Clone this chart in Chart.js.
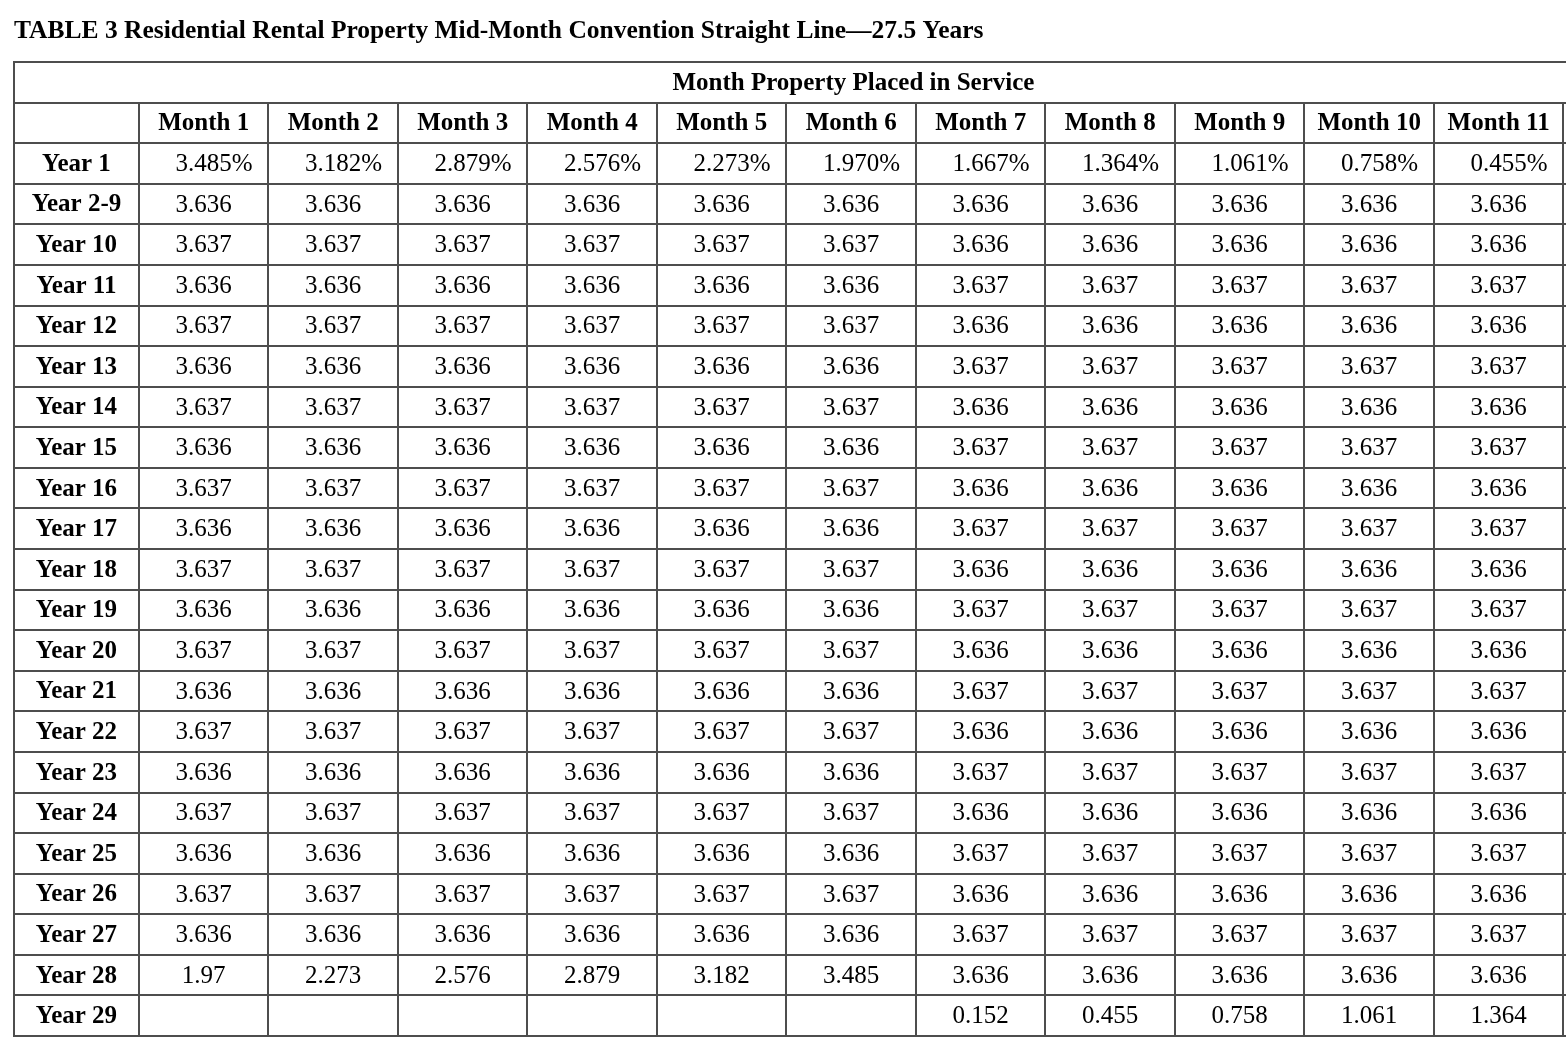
<!DOCTYPE html>
<html>
<head>
<meta charset="utf-8">
<script src="https://cdn.jsdelivr.net/npm/chart.js@4/dist/chart.umd.min.js"></script>
<style>
  body { margin: 0; background: #fff; }
</style>
</head>
<body>
<canvas id="table3" width="1566" height="1052"></canvas>
<script>
const title = 'TABLE 3 Residential Rental Property Mid-Month Convention Straight Line\u201427.5 Years';
const groupHeader = 'Month Property Placed in Service';
const months = ['Month 1', 'Month 2', 'Month 3', 'Month 4', 'Month 5', 'Month 6',
                'Month 7', 'Month 8', 'Month 9', 'Month 10', 'Month 11'];
const years = ['Year 1', 'Year 2-9', 'Year 10', 'Year 11', 'Year 12', 'Year 13', 'Year 14',
               'Year 15', 'Year 16', 'Year 17', 'Year 18', 'Year 19', 'Year 20', 'Year 21',
               'Year 22', 'Year 23', 'Year 24', 'Year 25', 'Year 26', 'Year 27', 'Year 28', 'Year 29'];

// one list per year row, one entry per month column
const rates = [
  ['3.485%', '3.182%', '2.879%', '2.576%', '2.273%', '1.970%', '1.667%', '1.364%', '1.061%', '0.758%', '0.455%'],
  ['3.636', '3.636', '3.636', '3.636', '3.636', '3.636', '3.636', '3.636', '3.636', '3.636', '3.636'],
  ['3.637', '3.637', '3.637', '3.637', '3.637', '3.637', '3.636', '3.636', '3.636', '3.636', '3.636'],
  ['3.636', '3.636', '3.636', '3.636', '3.636', '3.636', '3.637', '3.637', '3.637', '3.637', '3.637'],
  ['3.637', '3.637', '3.637', '3.637', '3.637', '3.637', '3.636', '3.636', '3.636', '3.636', '3.636'],
  ['3.636', '3.636', '3.636', '3.636', '3.636', '3.636', '3.637', '3.637', '3.637', '3.637', '3.637'],
  ['3.637', '3.637', '3.637', '3.637', '3.637', '3.637', '3.636', '3.636', '3.636', '3.636', '3.636'],
  ['3.636', '3.636', '3.636', '3.636', '3.636', '3.636', '3.637', '3.637', '3.637', '3.637', '3.637'],
  ['3.637', '3.637', '3.637', '3.637', '3.637', '3.637', '3.636', '3.636', '3.636', '3.636', '3.636'],
  ['3.636', '3.636', '3.636', '3.636', '3.636', '3.636', '3.637', '3.637', '3.637', '3.637', '3.637'],
  ['3.637', '3.637', '3.637', '3.637', '3.637', '3.637', '3.636', '3.636', '3.636', '3.636', '3.636'],
  ['3.636', '3.636', '3.636', '3.636', '3.636', '3.636', '3.637', '3.637', '3.637', '3.637', '3.637'],
  ['3.637', '3.637', '3.637', '3.637', '3.637', '3.637', '3.636', '3.636', '3.636', '3.636', '3.636'],
  ['3.636', '3.636', '3.636', '3.636', '3.636', '3.636', '3.637', '3.637', '3.637', '3.637', '3.637'],
  ['3.637', '3.637', '3.637', '3.637', '3.637', '3.637', '3.636', '3.636', '3.636', '3.636', '3.636'],
  ['3.636', '3.636', '3.636', '3.636', '3.636', '3.636', '3.637', '3.637', '3.637', '3.637', '3.637'],
  ['3.637', '3.637', '3.637', '3.637', '3.637', '3.637', '3.636', '3.636', '3.636', '3.636', '3.636'],
  ['3.636', '3.636', '3.636', '3.636', '3.636', '3.636', '3.637', '3.637', '3.637', '3.637', '3.637'],
  ['3.637', '3.637', '3.637', '3.637', '3.637', '3.637', '3.636', '3.636', '3.636', '3.636', '3.636'],
  ['3.636', '3.636', '3.636', '3.636', '3.636', '3.636', '3.637', '3.637', '3.637', '3.637', '3.637'],
  ['1.97', '2.273', '2.576', '2.879', '3.182', '3.485', '3.636', '3.636', '3.636', '3.636', '3.636'],
  ['', '', '', '', '', '', '0.152', '0.455', '0.758', '1.061', '1.364']
];

// the table has 12 month columns, the 12th is cut off by the picture edge
const totalCols = 12;
const labelColWidth = 0.965;   // first column, in month-column units
const headerRows = 2;

// build cells: x = column centre, y = row centre
const cells = [];
cells.push({ x: (totalCols - labelColWidth) / 2, y: 0.5, text: groupHeader, bold: true });
months.forEach((m, i) => cells.push({ x: i + 0.5, y: 1.5, text: m, bold: true }));
years.forEach((yr, r) => {
  cells.push({ x: -labelColWidth / 2, y: headerRows + r + 0.5, text: yr, bold: true });
  rates[r].forEach((v, c) => {
    if (v !== '') cells.push({ x: c + 0.5, y: headerRows + r + 0.5, text: v, bold: false });
  });
});

const FONT = '"Liberation Serif", "Times New Roman", serif';

const tablePlugin = {
  id: 'tableCells',
  afterDraw(chart) {
    const { ctx } = chart;
    const xs = chart.scales.x, ys = chart.scales.y;
    const nRows = headerRows + years.length;
    const left = xs.getPixelForValue(-labelColWidth);
    const right = xs.getPixelForValue(totalCols);
    ctx.save();
    ctx.strokeStyle = '#4d4d4d';
    ctx.lineWidth = 2;
    ctx.beginPath();
    for (let r = 0; r <= nRows; r++) {
      const y = Math.round(ys.getPixelForValue(r));
      ctx.moveTo(left - 1, y);
      ctx.lineTo(right, y);
    }
    ctx.moveTo(Math.round(left), Math.round(ys.getPixelForValue(0)));
    ctx.lineTo(Math.round(left), Math.round(ys.getPixelForValue(nRows)));
    for (let c = 0; c <= totalCols; c++) {
      const x = Math.round(xs.getPixelForValue(c));
      ctx.moveTo(x, Math.round(ys.getPixelForValue(1)));
      ctx.lineTo(x, Math.round(ys.getPixelForValue(nRows)));
    }
    ctx.stroke();

    // cell texts at the positions the library gave the points
    const meta = chart.getDatasetMeta(0);
    ctx.fillStyle = '#000';
    ctx.textBaseline = 'middle';
    meta.data.forEach((pt, i) => {
      const cell = cells[i];
      ctx.font = (cell.bold ? 'bold ' : '') + '25px ' + FONT;
      const py = pt.y + 1;
      if (cell.text.endsWith('%')) {
        const num = cell.text.slice(0, -1);
        const w = ctx.measureText(num).width;
        ctx.textAlign = 'left';
        ctx.fillText(num, pt.x - w / 2, py);
        ctx.fillText('%', pt.x + w / 2, py);
      } else {
        ctx.textAlign = 'center';
        ctx.fillText(cell.text, pt.x, py);
      }
    });
    ctx.restore();
  }
};

new Chart(document.getElementById('table3'), {
  type: 'scatter',
  data: {
    datasets: [{
      data: cells,
      pointRadius: 0,
      pointHoverRadius: 0
    }]
  },
  options: {
    responsive: false,
    animation: false,
    events: [],
    layout: { padding: { left: 14, right: 0, top: 0, bottom: 16 } },
    plugins: {
      legend: { display: false },
      tooltip: { enabled: false },
      title: {
        display: true,
        text: title,
        align: 'start',
        color: '#000',
        font: { family: FONT, size: 25.5, weight: 'bold', lineHeight: 1.2 },
        padding: { top: 16, bottom: 15.4 }
      }
    },
    scales: {
      x: { type: 'linear', display: false, min: -labelColWidth, max: 11.02 },
      y: { type: 'linear', display: false, min: 0, max: headerRows + years.length, reverse: true }
    }
  },
  plugins: [tablePlugin]
});
</script>
</body>
</html>
